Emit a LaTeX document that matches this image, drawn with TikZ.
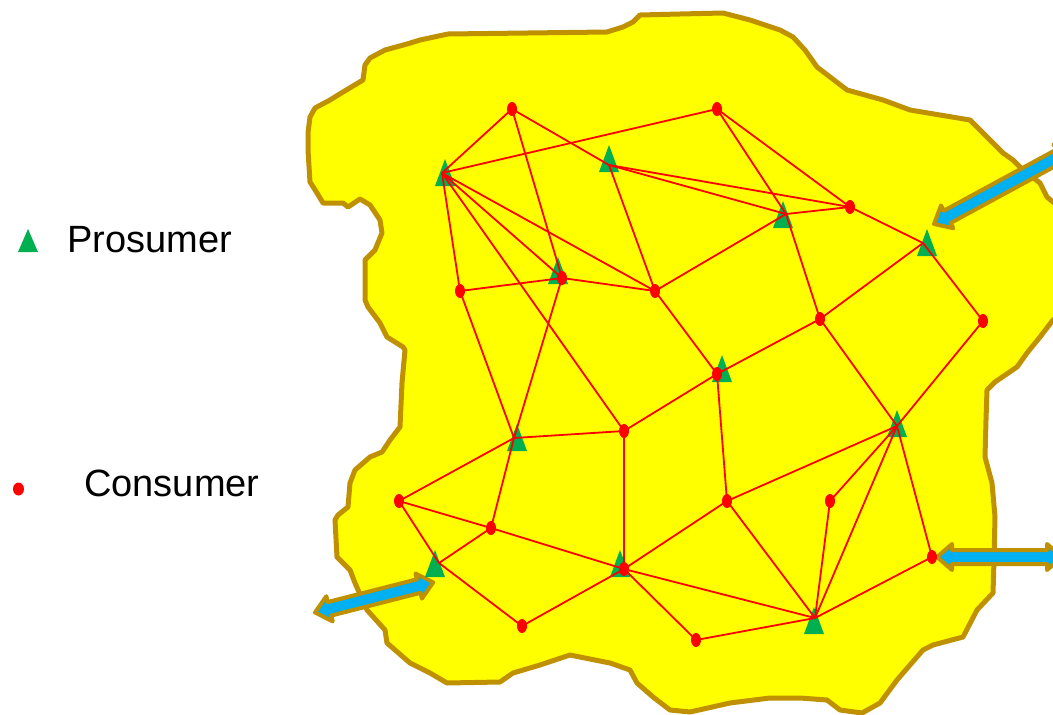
\documentclass[tikz,border=0pt]{standalone}
\usepackage{fontspec}
\setmainfont{Liberation Sans}
\usetikzlibrary{shapes.geometric}
\definecolor{blobfill}{HTML}{FFFF00}
\definecolor{blobline}{HTML}{BF9000}
\definecolor{prosgreen}{HTML}{00B050}
\definecolor{arrowcyan}{HTML}{00B0F0}
\definecolor{linkred}{HTML}{FF0000}
\tikzset{
 edge/.style={draw=linkred, line width=1.8pt},
 cons/.style={ellipse, fill=linkred, minimum width=10pt, minimum height=14pt, inner sep=0pt},
 blob/.style={fill=blobfill, draw=blobline, line width=5pt, line join=round},
 flow/.style={fill=arrowcyan, draw=blobline, line width=4pt, line join=round},
 pros/.pic={\fill[prosgreen] (0,0) -- (10,27) -- (-10,27) -- cycle;},
 legtext/.style={anchor=base west, inner sep=0pt, font=\fontsize{38}{42}\selectfont},
}
\begin{document}
\begin{tikzpicture}[x=1pt,y=-1pt]
\useasboundingbox (0,0) rectangle (1053,715);
\begin{scope}
\clip (0,0) rectangle (1053,715);
% region
\draw[blob] (448,34) -- (607,32) -- (623,27) -- (633,22) -- (640,15) -- (680,14) -- (723,13) -- (750,20) -- (780,30) -- (793,37) -- (805,50) -- (817,67) -- (847,90) -- (883,100) -- (910,110) -- (940,115) -- (970,120) -- (980,130) -- (990,140) -- (1003,153) -- (1013,160) -- (1023,170) -- (1040,183) -- (1047,197) -- (1065,212) -- (1065,312) -- (1053,320) -- (1040,337) -- (1027,353) -- (1017,367) -- (995,382) -- (987,390) -- (986,420) -- (985,457) -- (992,483) -- (995,517) -- (994,560) -- (993,593) -- (977,610) -- (963,637) -- (933,645) -- (923,650) -- (910,665) -- (897,680) -- (880,703) -- (862,713) -- (840,710) -- (827,700) -- (800,698) -- (770,698) -- (730,703) -- (690,712) -- (670,710) -- (653,697) -- (637,683) -- (630,670) -- (610,663) -- (570,655) -- (540,665) -- (513,673) -- (500,682) -- (447,683) -- (430,673) -- (410,663) -- (387,643) -- (385,630) -- (367,610) -- (355,583) -- (350,570) -- (337,557) -- (335,520) -- (338,515) -- (348,507) -- (350,483) -- (355,470) -- (370,457) -- (382,452) -- (390,440) -- (400,427) -- (401,405) -- (402,383) -- (405,350) -- (403,347) -- (387,337) -- (380,323) -- (368,307) -- (365,300) -- (365,260) -- (375,250) -- (382,233) -- (380,220) -- (370,205) -- (360,199) -- (348,207) -- (343,203) -- (323,203) -- (317,193) -- (310,182) -- (308,150) -- (308,133) -- (310,117) -- (315,108) -- (330,100) -- (343,92) -- (363,80) -- (365,65) -- (370,58) -- (385,50) -- (407,44) -- (420,40) -- cycle;
% power flow arrows
\begin{scope}[shift={(934,224)}, rotate=28.5]
\draw[flow] (0,0) -- (15,13) -- (15,7) -- (143,7) -- (143,13) -- (158,0) -- (143,-13) -- (143,-7) -- (15,-7) -- (15,-13) -- cycle;
\end{scope}
\begin{scope}[shift={(937,557)}]
\draw[flow] (0,0) -- (15,13) -- (15,7) -- (110,7) -- (110,13) -- (125,0) -- (110,-13) -- (110,-7) -- (15,-7) -- (15,-13) -- cycle;
\end{scope}
\begin{scope}[shift={(315,612.5)}, rotate=14.3]
\draw[flow] (0,0) -- (15,13) -- (15,7) -- (107,7) -- (107,13) -- (122,0) -- (107,-13) -- (107,-7) -- (15,-7) -- (15,-13) -- cycle;
\end{scope}
\end{scope}
% prosumer triangles
\pic (tp1) at (445,159) {pros};
\pic (tp2) at (609,145) {pros};
\pic (tp3) at (783,201) {pros};
\pic (tp4) at (927,229) {pros};
\pic (tp5) at (558,257) {pros};
\pic (tp6) at (722,355) {pros};
\pic (tp7) at (517,424) {pros};
\pic (tp8) at (897,410) {pros};
\pic (tp9) at (435,550) {pros};
\pic (tp10) at (620,550) {pros};
\pic (tp11) at (814,607) {pros};
% junction points
\coordinate (c1) at (512,109);
\coordinate (c2) at (717,109);
\coordinate (c3) at (850,207);
\coordinate (c4) at (562,278);
\coordinate (c5) at (460,291);
\coordinate (c6) at (655,291);
\coordinate (c7) at (820,319);
\coordinate (c8) at (983,321);
\coordinate (c9) at (717,374);
\coordinate (c10) at (624,431);
\coordinate (c11) at (399,501);
\coordinate (c12) at (727,501);
\coordinate (c13) at (830,501);
\coordinate (c14) at (491,528);
\coordinate (c15) at (624,569);
\coordinate (c16) at (932,557);
\coordinate (c17) at (522,626);
\coordinate (c18) at (696,640);
\coordinate (p1) at (442,173);
\coordinate (p2) at (609,165);
\coordinate (p3) at (786,214);
\coordinate (p4) at (923,243);
\coordinate (p7) at (514,438);
\coordinate (p8) at (897,426);
\coordinate (p9) at (439,563);
\coordinate (p11) at (815,618);
% links
\draw[edge] (c1) -- (p1);
\draw[edge] (c1) -- (c4);
\draw[edge] (c1) -- (p2);
\draw[edge] (p1) -- (c2);
\draw[edge] (p1) -- (c5);
\draw[edge] (p1) -- (c4);
\draw[edge] (p1) -- (c6);
\draw[edge] (p1) -- (c10);
\draw[edge] (p2) -- (c3);
\draw[edge] (p2) -- (p3);
\draw[edge] (p2) -- (c6);
\draw[edge] (c2) -- (c3);
\draw[edge] (c2) -- (p3);
\draw[edge] (p3) -- (c3);
\draw[edge] (p3) -- (c6);
\draw[edge] (p3) -- (c7);
\draw[edge] (c3) -- (p4);
\draw[edge] (p4) -- (c7);
\draw[edge] (p4) -- (c8);
\draw[edge] (c8) -- (p8);
\draw[edge] (c7) -- (c9);
\draw[edge] (c7) -- (p8);
\draw[edge] (c5) -- (c4);
\draw[edge] (c5) -- (p7);
\draw[edge] (c4) -- (c6);
\draw[edge] (c4) -- (p7);
\draw[edge] (c6) -- (c9);
\draw[edge] (c9) -- (c10);
\draw[edge] (c9) -- (c12);
\draw[edge] (c10) -- (p7);
\draw[edge] (c10) -- (c15);
\draw[edge] (p7) -- (c11);
\draw[edge] (p7) -- (c14);
\draw[edge] (c11) -- (c14);
\draw[edge] (c11) -- (p9);
\draw[edge] (c14) -- (p9);
\draw[edge] (c14) -- (c15);
\draw[edge] (c15) -- (p11);
\draw[edge] (p9) -- (c17);
\draw[edge] (c17) -- (c15);
\draw[edge] (c15) -- (c12);
\draw[edge] (c15) -- (c18);
\draw[edge] (c12) -- (p8);
\draw[edge] (c12) -- (p11);
\draw[edge] (c18) -- (p11);
\draw[edge] (c13) -- (p8);
\draw[edge] (c13) -- (p11);
\draw[edge] (p8) -- (p11);
\draw[edge] (p8) -- (c16);
\draw[edge] (c16) -- (p11);
% consumer dots
\foreach \i in {1,...,18} {\node[cons] (n\i) at (c\i) {};}
% legend
\fill[prosgreen] (28,229) -- (38,252) -- (18,252) -- cycle;
\node[legtext] (lp) at (67,252) {Prosumer};
\node[cons, minimum width=11pt, minimum height=13pt] (ld) at (18.5,489) {};
\node[legtext] (lc) at (84,496) {Consumer};
\end{tikzpicture}
\end{document}
